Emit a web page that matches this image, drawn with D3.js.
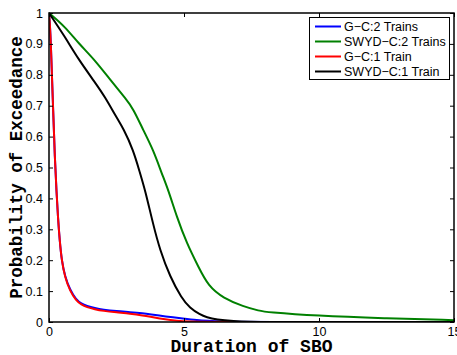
<!DOCTYPE html>
<html><head><meta charset="utf-8">
<script src="https://cdn.jsdelivr.net/npm/d3@7"></script>
<style>html,body{margin:0;padding:0;background:#fff;}svg{display:block;}</style>
</head><body>
<script>
const seriesNames = ["G\u2212C:2 Trains","SWYD\u2212C:2 Trains","G\u2212C:1 Train","SWYD\u2212C:1 Train"];
const seriesColors = ["#0000ff","#008000","#ff0000","#000000"];
const xTicks = [0,5,10,15];
const yTicks = [0,0.1,0.2,0.3,0.4,0.5,0.6,0.7,0.8,0.9,1];

const gc2 = [[0,1],[0.03,0.97],[0.07,0.9],[0.14,0.72],[0.22,0.52],[0.28,0.42],[0.33,0.34],[0.4,0.26],[0.47,0.2],[0.59,0.147],[0.78,0.104],[1.0,0.073],[1.2,0.059],[1.4,0.052],[1.7,0.045],[2.0,0.04],[2.5,0.035],[3.0,0.032],[3.5,0.028],[3.74,0.025],[4.3,0.018],[4.98,0.011],[5.5,0.006],[5.84,0.004],[6.5,0.001],[7.1,0.0],[15,0]];
const gc1 = [[0,1],[0.03,0.97],[0.07,0.9],[0.14,0.72],[0.22,0.52],[0.28,0.42],[0.33,0.34],[0.4,0.26],[0.47,0.2],[0.59,0.145],[0.78,0.1],[1.0,0.07],[1.2,0.056],[1.4,0.048],[1.7,0.041],[2.0,0.036],[2.5,0.031],[3.0,0.027],[3.5,0.021],[3.74,0.017],[4.1,0.011],[4.48,0.006],[4.98,0.002],[5.5,0.0],[15,0]];
const swyd2 = [[0,1],[0.59,0.956],[1.09,0.902],[1.7,0.848],[2.32,0.778],[2.85,0.722],[3.12,0.69],[3.49,0.621],[3.86,0.557],[4.17,0.482],[4.42,0.427],[4.73,0.341],[5.1,0.255],[5.53,0.179],[5.9,0.116],[6.46,0.077],[7.2,0.05],[7.8,0.036],[8.06,0.032],[9.9,0.02],[12.4,0.012],[15,0.006]];
const swyd1 = [[0,1],[0.59,0.923],[1.09,0.85],[1.7,0.776],[2.07,0.729],[2.5,0.662],[2.75,0.627],[3.12,0.557],[3.37,0.482],[3.56,0.427],[3.86,0.315],[4.11,0.233],[4.48,0.147],[4.91,0.077],[5.22,0.045],[5.59,0.024],[5.84,0.015],[6.2,0.008],[6.83,0.003],[7.5,0.001],[8,0],[15,0]];
const seriesData = [gc2, swyd2, gc1, swyd1];

const W = 457, H = 355;
const m = {left:49, right:454, top:13, bottom:322};
const svg = d3.select("body").append("svg").attr("width",W).attr("height",H);
const x = d3.scaleLinear().domain([0,15]).range([m.left,m.right]);
const y = d3.scaleLinear().domain([0,1]).range([m.bottom,m.top]);

svg.append("defs").append("clipPath").attr("id","c").append("rect")
  .attr("x",m.left).attr("y",m.top-2).attr("width",m.right-m.left).attr("height",m.bottom-m.top+2);

const line = d3.line().x(d=>x(d[0])).y(d=>y(d[1])).curve(d3.curveBasis);
const plot = svg.append("g").attr("clip-path","url(#c)");
seriesData.forEach((s,i)=>{
  plot.append("path").datum(s).attr("d",line).attr("fill","none")
    .attr("stroke",seriesColors[i]).attr("stroke-width",2).attr("stroke-linejoin","round");
});

// axes (MATLAB style: inward ticks on all sides)
const tl = 4;
const fontT = "'Liberation Sans', Arial, sans-serif";
const bottomAx = d3.axisBottom(x).tickValues(xTicks).tickSizeInner(-tl).tickSizeOuter(0).tickPadding(5).tickFormat(d3.format("d"));
const topAx = d3.axisTop(x).tickValues(xTicks).tickSizeInner(-tl).tickSizeOuter(0).tickFormat("");
const leftAx = d3.axisLeft(y).tickValues(yTicks).tickSizeInner(-tl).tickSizeOuter(0).tickPadding(6).tickFormat(d=>d===0?"0":d===1?"1":d3.format(".1f")(d));
const rightAx = d3.axisRight(y).tickValues(yTicks).tickSizeInner(-tl).tickSizeOuter(0).tickFormat("");

function style(g){
  g.select(".domain").remove();
  g.selectAll("line").attr("stroke","#000").attr("stroke-width",1);
  g.selectAll("text").attr("font-family",fontT).attr("font-size",12.5).attr("fill","#000");
}
svg.append("g").attr("transform",`translate(0,${m.bottom})`).call(bottomAx).call(style);
svg.append("g").attr("transform",`translate(0,${m.top})`).call(topAx).call(style);
svg.append("g").attr("transform",`translate(${m.left},0)`).call(leftAx).call(style);
svg.append("g").attr("transform",`translate(${m.right},0)`).call(rightAx).call(style);

svg.append("rect").attr("x",m.left).attr("y",m.top).attr("width",m.right-m.left).attr("height",m.bottom-m.top)
  .attr("fill","none").attr("stroke","#000").attr("stroke-width",1.5);

// axis labels
const fontL = "'Liberation Mono', 'Courier New', monospace";
svg.append("text").attr("x",(m.left+m.right)/2).attr("y",351.5).attr("text-anchor","middle")
  .attr("font-family",fontL).attr("font-weight","bold").attr("font-size",18).text("Duration of SBO");
svg.append("text").attr("transform",`translate(22,${(m.top+m.bottom)/2}) rotate(-90)`).attr("text-anchor","middle")
  .attr("font-family",fontL).attr("font-weight","bold").attr("font-size",17.5).text("Probability of Exceedance");

// legend
const lg = svg.append("g");
lg.append("rect").attr("x",309.5).attr("y",17.5).attr("width",140).attr("height",62)
  .attr("fill","#fff").attr("stroke","#000").attr("stroke-width",1);
seriesNames.forEach((n,i)=>{
  const yy = 26.5 + i*15;
  lg.append("line").attr("x1",315).attr("x2",341).attr("y1",yy).attr("y2",yy)
    .attr("stroke",seriesColors[i]).attr("stroke-width",2);
  lg.append("text").attr("x",344).attr("y",yy).attr("dy","0.35em")
    .attr("font-family",fontT).attr("font-size",12.5).text(n);
});
</script>
</body></html>
